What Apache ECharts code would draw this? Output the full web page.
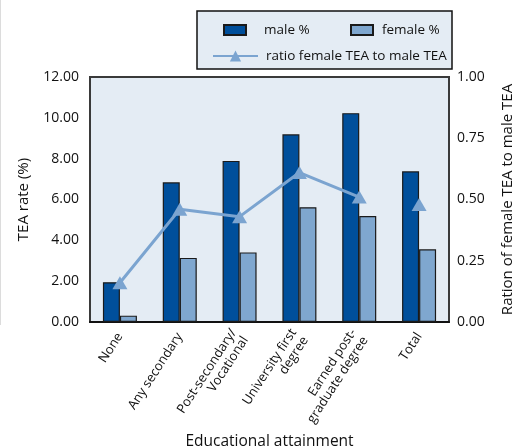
<!DOCTYPE html>
<html>
<head>
<meta charset="utf-8">
<script src="https://cdn.jsdelivr.net/npm/echarts@6/dist/echarts.min.js"></script>
<style>
  html, body { margin: 0; padding: 0; background: #ffffff; }
  #chart { width: 522px; height: 448px; }
</style>
</head>
<body>
<div id="chart"></div>
<script>
// Educational attainment categories
const categories = [
  'None',
  'Any secondary',
  'Post-secondary/\nVocational',
  'University first\ndegree',
  'Earned post-\ngraduate degree',
  'Total'
];
// TEA rates (%)
const malePct   = [1.95, 6.84, 7.89, 9.19, 10.23, 7.38];
const femalePct = [0.31, 3.14, 3.41, 5.62, 5.19, 3.56];
// Ratio of female TEA to male TEA (Total shown as a separate point)
const ratioByLevel = [0.16, 0.46, 0.43, 0.61, 0.51, null];
const ratioTotal   = [null, null, null, null, null, 0.48];
// Axis ticks
const leftTicks  = { min: 0, max: 12, interval: 2 };
const rightTicks = { min: 0, max: 1, interval: 0.25 };

const FONT = 'Open Sans';
const MALE = '#004f9b';
const FEMALE = '#7fa7cf';
const RATIO = '#7ba4d0';
const PANEL = '#e4ecf4';

const chart = echarts.init(document.getElementById('chart'), null, { renderer: 'canvas' });

const legendText = { fontFamily: FONT, fontSize: 13.5, color: '#111' };

chart.setOption({
  animation: false,
  backgroundColor: '#ffffff',
  textStyle: { fontFamily: FONT },
  graphic: [
    { type: 'line', shape: { x1: 0.5, y1: 0, x2: 0.5, y2: 325 },
      style: { stroke: '#dcdcdc', lineWidth: 1 }, z: 0 },
    { type: 'rect', shape: { x: 197, y: 11, width: 255, height: 58 },
      style: { fill: PANEL, stroke: '#111', lineWidth: 1.5 }, z: 0 }
  ],
  legend: [
    { data: ['male %'], left: 218, top: 18, icon: 'rect', itemWidth: 22, itemHeight: 10,
      textStyle: Object.assign({ padding: [0, 0, 0, 13] }, legendText) },
    { data: ['female %'], left: 345, top: 18, icon: 'rect', itemWidth: 22, itemHeight: 10,
      textStyle: Object.assign({ padding: [0, 0, 0, 4] }, legendText) },
    { data: ['ratio female TEA to male TEA'], left: 207, top: 44, itemWidth: 45, itemHeight: 14,
      textStyle: Object.assign({ padding: [0, 0, 0, 3] }, legendText) }
  ],
  grid: {
    left: 90, right: 73, top: 77, bottom: 126,
    containLabel: false,
    outerBoundsMode: 'none',
    show: true, backgroundColor: PANEL, borderColor: '#3a3a3a', borderWidth: 2
  },
  xAxis: {
    type: 'category',
    data: categories,
    name: 'Educational attainment',
    nameLocation: 'middle',
    nameGap: 104,
    nameTextStyle: { fontFamily: FONT, fontSize: 15.5, color: '#111' },
    axisLine: { lineStyle: { color: '#111', width: 2 } },
    axisTick: { inside: true, length: 5, lineStyle: { color: '#111', width: 2 } },
    axisLabel: { rotate: 57, margin: 12, fontFamily: FONT, fontSize: 13, color: '#111', lineHeight: 14 }
  },
  yAxis: [
    {
      type: 'value',
      min: leftTicks.min, max: leftTicks.max, interval: leftTicks.interval,
      name: 'TEA rate (%)',
      nameLocation: 'middle',
      nameGap: 59,
      nameTextStyle: { fontFamily: FONT, fontSize: 15, color: '#111' },
      axisLine: { show: false },
      axisTick: { show: false },
      splitLine: { show: false },
      axisLabel: { margin: 11, fontFamily: FONT, fontSize: 14, color: '#111',
        formatter: v => v.toFixed(2) }
    },
    {
      type: 'value',
      min: rightTicks.min, max: rightTicks.max, interval: rightTicks.interval,
      name: 'Ration of female TEA to male TEA',
      nameLocation: 'middle',
      nameGap: 51,
      nameRotate: 90,
      nameTextStyle: { fontFamily: FONT, fontSize: 15, color: '#111' },
      axisLine: { show: false },
      axisTick: { show: false },
      splitLine: { show: false },
      axisLabel: { margin: 8, fontFamily: FONT, fontSize: 14, color: '#111',
        formatter: v => v.toFixed(2) }
    }
  ],
  series: [
    {
      name: 'male %', type: 'bar', data: malePct, barWidth: 17, barGap: '0%',
      itemStyle: { color: MALE, borderColor: '#1a1a1a', borderWidth: 1.2 }
    },
    {
      name: 'female %', type: 'bar', data: femalePct, barWidth: 17,
      itemStyle: { color: FEMALE, borderColor: '#1a1a1a', borderWidth: 1.2 }
    },
    {
      name: 'ratio female TEA to male TEA', type: 'line', yAxisIndex: 1,
      data: ratioByLevel, symbol: 'triangle', symbolSize: [15, 13],
      lineStyle: { color: RATIO, width: 3 },
      itemStyle: { color: RATIO, borderWidth: 0 }, z: 5
    },
    {
      name: 'ratio female TEA to male TEA', type: 'line', yAxisIndex: 1,
      data: ratioTotal, symbol: 'triangle', symbolSize: [15, 13], showSymbol: true,
      lineStyle: { color: RATIO, width: 3 },
      itemStyle: { color: RATIO, borderWidth: 0 }, z: 5
    }
  ]
});
</script>
</body>
</html>
